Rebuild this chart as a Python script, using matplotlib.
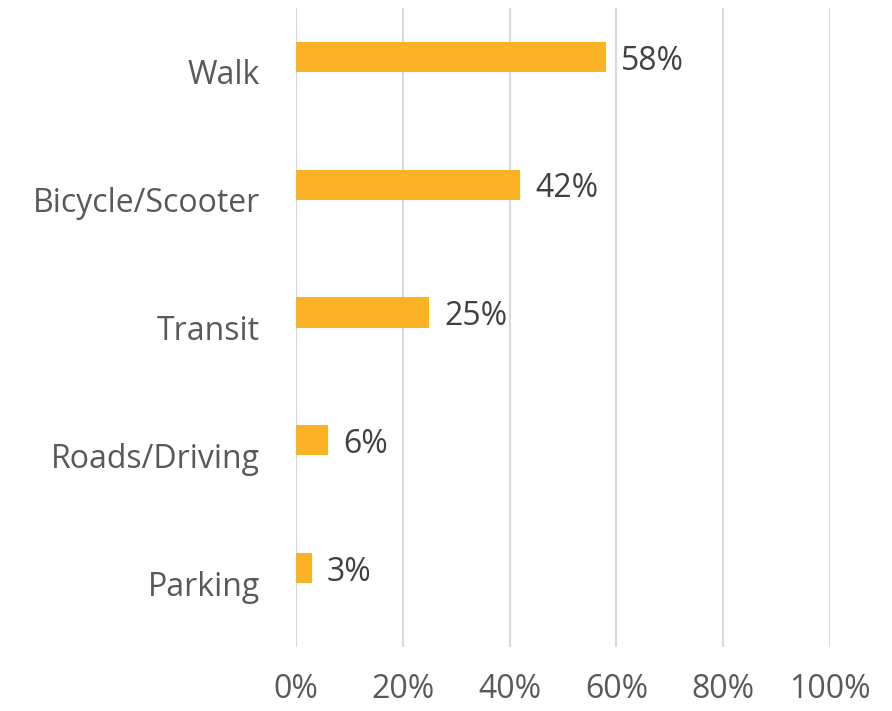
import matplotlib.pyplot as plt
import numpy as np

categories = ['Walk', 'Bicycle/Scooter', 'Transit', 'Roads/Driving', 'Parking']
values = [58, 42, 25, 6, 3]
xticks = [0, 20, 40, 60, 80, 100]

plt.rcParams['font.family'] = ['Open Sans', 'DejaVu Sans']

fig = plt.figure(figsize=(8.92, 7.11), dpi=100)
ax = fig.add_axes([0.3318, 0.090, 0.5987, 0.8987])

y = np.arange(len(categories))
bh = 0.235
ax.barh(y - bh / 2, values, height=bh, color='#FBB225', zorder=3)

# labels sit with the baseline a little under the bar middle
for yi, v in zip(y, values):
    ax.text(v + 2.8, yi - bh / 2 + 0.1, '%d%%' % v, va='baseline', ha='left',
            fontsize=23, color='#404040')

ax.set_xlim(0, 100)
ax.set_ylim(len(categories) - 0.5, -0.5)
ax.set_xticks(xticks)
ax.set_xticklabels(['%d%%' % t for t in xticks])
ax.set_yticks(y)
ax.set_yticklabels(categories)
ax.tick_params(axis='both', length=0, labelsize=23, labelcolor='#595959')
ax.tick_params(axis='y', pad=26)
ax.tick_params(axis='x', pad=19)
ax.grid(axis='x', color='#D9D9D9', linewidth=1.5, zorder=0)
for s in ax.spines.values():
    s.set_visible(False)

fig.savefig('out.png', dpi=100)
